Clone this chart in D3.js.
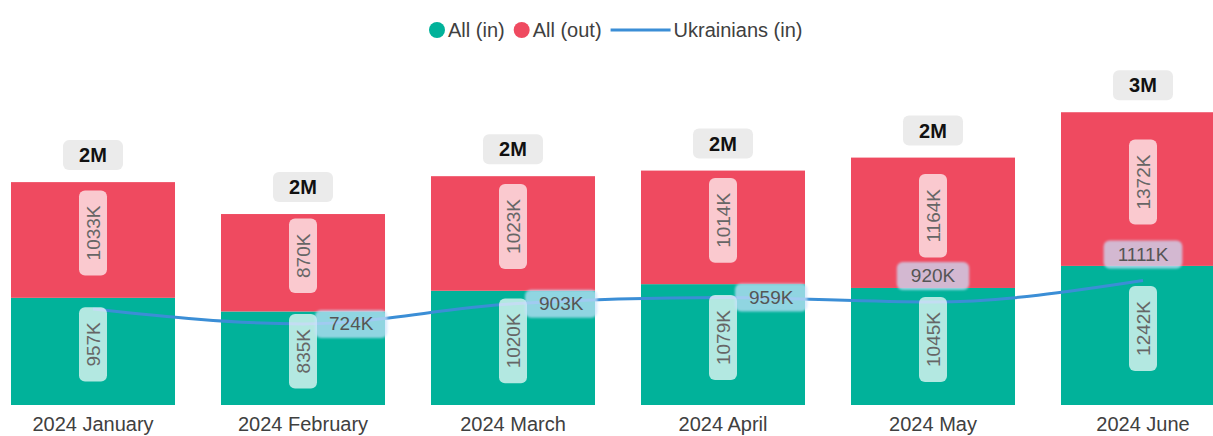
<!DOCTYPE html>
<html>
<head>
<meta charset="utf-8">
<script src="https://cdn.jsdelivr.net/npm/d3@7"></script>
<style>
  html, body { margin: 0; padding: 0; background: #fff; overflow: hidden; }
  svg { display: block; font-family: "Liberation Sans", Arial, sans-serif; }
</style>
</head>
<body>
<svg id="chart" width="1213" height="436"></svg>
<script>
// Monthly migration flows (thousands)
const months = ['2024 January', '2024 February', '2024 March', '2024 April', '2024 May', '2024 June'];
const allIn = [957, 835, 1020, 1079, 1045, 1242];
const allOut = [1033, 870, 1023, 1014, 1164, 1372];
const ukrIn = [857, 724, 903, 959, 920, 1111];

(function() {
    const svg = d3.select('#chart');

    const colors = { in: '#01b29a', out: '#ef4a60', ukr: '#3b8ed6' };

    const data = months.map((m, i) => ({
        month: m,
        inVal: allIn[i],
        outVal: allOut[i],
        total: allIn[i] + allOut[i],
        ukr: ukrIn[i]
    }));

    // x: band scale, last bar runs off the right edge like the original
    const x = d3.scaleBand()
        .domain(months)
        .range([-12, 1248])
        .paddingInner(0.219)
        .paddingOuter(0.1095);

    const y = d3.scaleLinear()
        .domain([0, 3000])
        .range([405, 405 - 336]);

    const cx = d => x(d.month) + x.bandwidth() / 2;

    const defs = svg.append('defs');
    defs.append('filter')
        .attr('id', 'soft')
        .attr('x', '-20%').attr('y', '-40%')
        .attr('width', '140%').attr('height', '180%')
        .append('feGaussianBlur')
        .attr('stdDeviation', 0.9);

    // Bars
    const bars = svg.append('g').attr('class', 'bars');
    bars.selectAll('.bar-in')
        .data(data)
        .enter().append('rect')
        .attr('class', 'bar-in')
        .attr('x', d => x(d.month))
        .attr('width', x.bandwidth())
        .attr('y', d => y(d.inVal))
        .attr('height', d => y(0) - y(d.inVal))
        .attr('fill', colors.in);

    bars.selectAll('.bar-out')
        .data(data)
        .enter().append('rect')
        .attr('class', 'bar-out')
        .attr('x', d => x(d.month))
        .attr('width', x.bandwidth())
        .attr('y', d => y(d.total))
        .attr('height', d => y(d.inVal) - y(d.total))
        .attr('fill', colors.out);

    // Ukrainians line
    const line = d3.line()
        .x(cx)
        .y(d => y(d.ukr))
        .curve(d3.curveMonotoneX);

    svg.append('path')
        .datum(data)
        .attr('fill', 'none')
        .attr('stroke', colors.ukr)
        .attr('stroke-width', 3)
        .attr('d', line);

    // Segment labels (rotated pills)
    function segLabel(d, lo, hi, val) {
        const g = svg.append('g')
            .attr('transform', `translate(${cx(d)}, ${(y(lo) + y(hi)) / 2 - 7}) rotate(-90)`);
        const t = g.append('text')
            .attr('text-anchor', 'middle')
            .attr('dominant-baseline', 'central')
            .attr('font-size', '19px')
            .attr('fill', '#666')
            .text(`${val}K`);
        const w = t.node().getComputedTextLength();
        g.insert('rect', 'text')
            .attr('x', -w / 2 - 15)
            .attr('y', -14)
            .attr('width', w + 30)
            .attr('height', 28)
            .attr('rx', 6)
            .attr('fill', 'rgba(255,255,255,0.7)');
    }

    data.forEach(d => {
        segLabel(d, 0, d.inVal, d.inVal);
        segLabel(d, d.inVal, d.total, d.outVal);
    });

    // Ukrainians labels: first one is hidden (overlaps), others right or above the point
    const ukrSide = [null, 'right', 'right', 'right', 'top', 'top'];
    data.forEach((d, i) => {
        if (!ukrSide[i]) return;
        const px = cx(d), py = y(d.ukr);
        const g = svg.append('g');
        const t = g.append('text')
            .attr('text-anchor', 'middle')
            .attr('dominant-baseline', 'central')
            .attr('font-size', '19px')
            .attr('fill', '#555')
            .text(`${d.ukr}K`);
        const w = t.node().getComputedTextLength() + 28;
        const bx = ukrSide[i] === 'right' ? px + 12 + w / 2 : px;
        const by = ukrSide[i] === 'right' ? py : py - 26;
        t.attr('x', bx).attr('y', by);
        g.insert('rect', 'text')
            .attr('x', bx - w / 2)
            .attr('y', by - 14)
            .attr('width', w)
            .attr('height', 28)
            .attr('rx', 6)
            .attr('fill', 'rgba(200,226,252,0.72)')
            .attr('filter', 'url(#soft)');
    });

    // Totals above the bars
    data.forEach(d => {
        const by = y(d.total) - 27;
        svg.append('rect')
            .attr('x', cx(d) - 30)
            .attr('y', by - 15)
            .attr('width', 60)
            .attr('height', 30)
            .attr('rx', 6)
            .attr('fill', '#ebebeb');
        svg.append('text')
            .attr('x', cx(d))
            .attr('y', by)
            .attr('text-anchor', 'middle')
            .attr('dominant-baseline', 'central')
            .attr('font-size', '20px')
            .attr('font-weight', 'bold')
            .attr('fill', '#111')
            .text(`${Math.round(d.total / 1000)}M`);
    });

    // x axis labels (no axis line)
    const xAxis = svg.append('g')
        .attr('transform', 'translate(0, 405)')
        .call(d3.axisBottom(x).tickSize(0).tickPadding(12));
    xAxis.select('.domain').remove();
    xAxis.selectAll('text')
        .attr('font-family', '"Liberation Sans", Arial, sans-serif')
        .attr('font-size', '20px')
        .attr('fill', '#404040');

    // Legend
    const legend = svg.append('g').attr('transform', 'translate(0, 30)');
    const items = [
        { name: 'All (in)', type: 'dot', color: colors.in },
        { name: 'All (out)', type: 'dot', color: colors.out },
        { name: 'Ukrainians (in)', type: 'line', color: colors.ukr }
    ];
    let lx = 429;
    items.forEach(item => {
        if (item.type === 'dot') {
            legend.append('circle')
                .attr('cx', lx + 8)
                .attr('cy', 0)
                .attr('r', 8)
                .attr('fill', item.color);
            lx += 19;
        } else {
            legend.append('line')
                .attr('x1', lx)
                .attr('x2', lx + 60)
                .attr('y1', 0)
                .attr('y2', 0)
                .attr('stroke', item.color)
                .attr('stroke-width', 3);
            lx += 63;
        }
        const t = legend.append('text')
            .attr('x', lx)
            .attr('y', 0)
            .attr('dominant-baseline', 'central')
            .attr('font-size', '20px')
            .attr('fill', '#404040')
            .text(item.name);
        lx += t.node().getComputedTextLength() + 9;
    });
})();
</script>
</body>
</html>
